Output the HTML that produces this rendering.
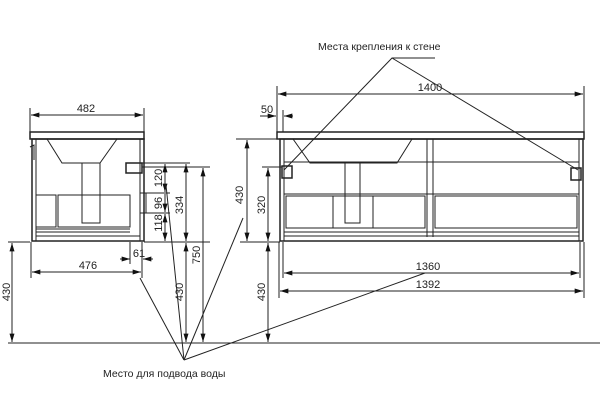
<!DOCTYPE html>
<html><head><meta charset="utf-8"><style>
body{margin:0;background:#fff}
svg{display:block}
text{font-family:"Liberation Sans",sans-serif;font-size:11px;fill:#222}
.s{font-size:10.5px}
</style></head><body>
<svg width="600" height="410" viewBox="0 0 600 410" xmlns="http://www.w3.org/2000/svg">
<defs>
<marker id="a" viewBox="0 0 10 6" refX="10" refY="3" markerWidth="9" markerHeight="5" orient="auto-start-reverse" markerUnits="userSpaceOnUse"><path d="M0,0L10,3L0,6z" fill="#111"/></marker>
</defs>
<g stroke="#222" stroke-width="1" fill="none">
<line x1="8" y1="343" x2="600" y2="343"/>
<line x1="8" y1="242" x2="30" y2="242"/>
<line x1="144" y1="242" x2="210" y2="242"/>
<line x1="240" y1="242" x2="280" y2="242"/>
<line x1="236" y1="139" x2="280" y2="139"/>
<rect x="30" y="132" width="114" height="7" stroke-width="1.5"/>
<rect x="32" y="139" width="112" height="102" stroke-width="1.5"/>
<line x1="36" y1="139" x2="36" y2="241"/>
<line x1="140" y1="139" x2="140" y2="241"/>
<path d="M30,147 L34,145 L34,160"/>
<path d="M47,139 L62,163 L100,163 L117,139"/>
<rect x="82" y="163" width="18" height="60"/>
<rect x="36" y="195" width="20" height="32"/>
<rect x="58" y="195" width="72" height="32"/>
<line x1="36" y1="229" x2="130" y2="229"/>
<line x1="36" y1="232" x2="130" y2="232"/>
<line x1="36" y1="236" x2="140" y2="236"/>
<rect x="126" y="163" width="16" height="10" stroke-width="1.5"/>
<rect x="140" y="193" width="6" height="20"/>
<line x1="30" y1="108" x2="30" y2="132"/><line x1="144" y1="108" x2="144" y2="132"/>
<line x1="31" y1="115" x2="143" y2="115" marker-start="url(#a)" marker-end="url(#a)"/>
<line x1="31" y1="242" x2="31" y2="278"/><line x1="142" y1="242" x2="142" y2="278"/>
<line x1="32" y1="272" x2="141" y2="272" marker-start="url(#a)" marker-end="url(#a)"/>
<line x1="130" y1="242" x2="130" y2="264"/>
<line x1="120" y1="259" x2="130" y2="259" marker-end="url(#a)"/>
<line x1="153" y1="259" x2="143" y2="259" marker-end="url(#a)"/>
<line x1="12" y1="243" x2="12" y2="342" marker-start="url(#a)" marker-end="url(#a)"/>
<line x1="142" y1="163" x2="190" y2="163"/>
<line x1="142" y1="167" x2="210" y2="167"/>
<line x1="146" y1="193" x2="170" y2="193"/>
<line x1="146" y1="213" x2="170" y2="213"/>
<line x1="165" y1="164" x2="165" y2="192" marker-start="url(#a)" marker-end="url(#a)"/>
<line x1="165" y1="194" x2="165" y2="212" marker-end="url(#a)"/>
<line x1="165" y1="214" x2="165" y2="241" marker-start="url(#a)" marker-end="url(#a)"/>
<line x1="186" y1="164" x2="186" y2="241" marker-start="url(#a)" marker-end="url(#a)"/>
<line x1="186" y1="243" x2="186" y2="342" marker-start="url(#a)" marker-end="url(#a)"/>
<line x1="203" y1="168" x2="203" y2="342" marker-start="url(#a)" marker-end="url(#a)"/>
<line x1="247" y1="140" x2="247" y2="241" marker-start="url(#a)" marker-end="url(#a)"/>
<line x1="262" y1="167" x2="282" y2="167"/>
<line x1="268" y1="168" x2="268" y2="241" marker-start="url(#a)" marker-end="url(#a)"/>
<line x1="268" y1="243" x2="268" y2="342" marker-start="url(#a)" marker-end="url(#a)"/>
<rect x="277" y="132" width="307" height="7" stroke-width="1.5"/>
<rect x="280" y="139" width="303" height="102" stroke-width="1.5"/>
<line x1="284" y1="139" x2="284" y2="241"/>
<line x1="579" y1="139" x2="579" y2="241"/>
<line x1="427" y1="139" x2="427" y2="237"/>
<line x1="433" y1="139" x2="433" y2="237"/>
<line x1="284" y1="162" x2="579" y2="162"/>
<path d="M293,139 L310,163 L397,163 L412,139"/>
<rect x="345" y="163" width="15" height="60"/>
<line x1="284" y1="194" x2="579" y2="194"/>
<rect x="286" y="196" width="139" height="32"/>
<rect x="435" y="196" width="142" height="32"/>
<line x1="333" y1="196" x2="333" y2="228"/>
<line x1="373" y1="196" x2="373" y2="228"/>
<line x1="284" y1="232" x2="579" y2="232"/>
<line x1="284" y1="236" x2="579" y2="236"/>
<rect x="282" y="166" width="10" height="12" stroke-width="1.5"/>
<rect x="571" y="168" width="10" height="12" stroke-width="1.5"/>
<line x1="277" y1="86" x2="277" y2="132"/><line x1="584" y1="86" x2="584" y2="132"/>
<line x1="278" y1="94" x2="583" y2="94" marker-start="url(#a)" marker-end="url(#a)"/>
<line x1="283" y1="110" x2="283" y2="132"/>
<line x1="260" y1="116" x2="276" y2="116" marker-end="url(#a)"/>
<line x1="293" y1="116" x2="284" y2="116" marker-end="url(#a)"/>
<line x1="279" y1="242" x2="279" y2="298"/><line x1="584" y1="242" x2="584" y2="298"/>
<line x1="283" y1="242" x2="283" y2="278"/><line x1="580" y1="242" x2="580" y2="278"/>
<line x1="284" y1="273" x2="579" y2="273" marker-start="url(#a)" marker-end="url(#a)"/>
<line x1="280" y1="291" x2="583" y2="291" marker-start="url(#a)" marker-end="url(#a)"/>
<path d="M435,58 L392,58 L284,170"/>
<line x1="392" y1="58" x2="578" y2="170"/>
<line x1="184" y1="360" x2="140" y2="278"/>
<line x1="184" y1="360" x2="166" y2="185"/>
<line x1="184" y1="360" x2="243" y2="218"/>
<line x1="184" y1="360" x2="425" y2="273"/>
</g>
<text x="86" y="112" text-anchor="middle">482</text>
<text x="88" y="269" text-anchor="middle">476</text>
<text x="139" y="257" text-anchor="middle">61</text>
<text class="s" x="318" y="50">Места крепления к стене</text>
<text class="s" x="103" y="377">Место для подвода воды</text>
<text x="430" y="91" text-anchor="middle">1400</text>
<text x="267" y="113" text-anchor="middle">50</text>
<text x="428" y="270" text-anchor="middle">1360</text>
<text x="428" y="288" text-anchor="middle">1392</text>
<g>
<text transform="translate(10,292) rotate(-90)" text-anchor="middle">430</text>
<text transform="translate(162,178) rotate(-90)" text-anchor="middle">120</text>
<text transform="translate(162,203) rotate(-90)" text-anchor="middle">96</text>
<text transform="translate(162,223) rotate(-90)" text-anchor="middle">118</text>
<text transform="translate(183,205) rotate(-90)" text-anchor="middle">334</text>
<text transform="translate(183,292) rotate(-90)" text-anchor="middle">430</text>
<text transform="translate(200,255) rotate(-90)" text-anchor="middle">750</text>
<text transform="translate(243,195) rotate(-90)" text-anchor="middle">430</text>
<text transform="translate(265,205) rotate(-90)" text-anchor="middle">320</text>
<text transform="translate(265,292) rotate(-90)" text-anchor="middle">430</text>
</g>
</svg>
</body></html>
